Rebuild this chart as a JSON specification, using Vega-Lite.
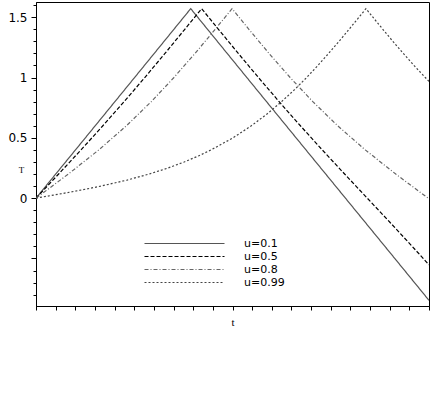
{
  "$schema": "https://vega.github.io/schema/vega-lite/v6.json",
  "width": 393,
  "height": 304,
  "autosize": "none",
  "padding": {"left": 36, "top": 2, "right": 7, "bottom": 103},
  "background": "white",
  "config": {
    "view": {"stroke": "#000", "strokeWidth": 1},
    "axis": {
      "domainColor": "#000",
      "tickColor": "#000",
      "labelColor": "#000",
      "labelFont": "DejaVu Sans",
      "labelFontSize": 12,
      "grid": false,
      "titleColor": "#000",
      "titleFont": "Liberation Serif",
      "titleFontWeight": "normal"
    }
  },
  "data": {
    "values": [
      {"s": "u=0.1", "t": 0, "T": 0},
      {"s": "u=0.1", "t": 0.5023, "T": 0.5},
      {"s": "u=0.1", "t": 1.0036, "T": 1.0},
      {"s": "u=0.1", "t": 1.5747, "T": 1.5708},
      {"s": "u=0.1", "t": 2.1458, "T": 1.0},
      {"s": "u=0.1", "t": 2.6472, "T": 0.5},
      {"s": "u=0.1", "t": 3.1495, "T": 0},
      {"s": "u=0.1", "t": 3.6518, "T": -0.5},
      {"s": "u=0.1", "t": 4, "T": -0.8472},

      {"s": "u=0.5", "t": 0, "T": 0},
      {"s": "u=0.5", "t": 0.2304, "T": 0.2},
      {"s": "u=0.5", "t": 0.458, "T": 0.4},
      {"s": "u=0.5", "t": 0.6805, "T": 0.6},
      {"s": "u=0.5", "t": 0.897, "T": 0.8},
      {"s": "u=0.5", "t": 1.1074, "T": 1.0},
      {"s": "u=0.5", "t": 1.3129, "T": 1.2},
      {"s": "u=0.5", "t": 1.5147, "T": 1.4},
      {"s": "u=0.5", "t": 1.6858, "T": 1.5708},
      {"s": "u=0.5", "t": 1.8568, "T": 1.4},
      {"s": "u=0.5", "t": 2.0586, "T": 1.2},
      {"s": "u=0.5", "t": 2.2641, "T": 1.0},
      {"s": "u=0.5", "t": 2.4745, "T": 0.8},
      {"s": "u=0.5", "t": 2.691, "T": 0.6},
      {"s": "u=0.5", "t": 2.9135, "T": 0.4},
      {"s": "u=0.5", "t": 3.1411, "T": 0.2},
      {"s": "u=0.5", "t": 3.3715, "T": 0},
      {"s": "u=0.5", "t": 3.6019, "T": -0.2},
      {"s": "u=0.5", "t": 3.8295, "T": -0.4},
      {"s": "u=0.5", "t": 4, "T": -0.5529},

      {"s": "u=0.8", "t": 0, "T": 0},
      {"s": "u=0.8", "t": 0.3295, "T": 0.2},
      {"s": "u=0.8", "t": 0.6393, "T": 0.4},
      {"s": "u=0.8", "t": 0.9202, "T": 0.6},
      {"s": "u=0.8", "t": 1.1733, "T": 0.8},
      {"s": "u=0.8", "t": 1.4041, "T": 1.0},
      {"s": "u=0.8", "t": 1.619, "T": 1.2},
      {"s": "u=0.8", "t": 1.824, "T": 1.4},
      {"s": "u=0.8", "t": 1.9953, "T": 1.5708},
      {"s": "u=0.8", "t": 2.1666, "T": 1.4},
      {"s": "u=0.8", "t": 2.3716, "T": 1.2},
      {"s": "u=0.8", "t": 2.5865, "T": 1.0},
      {"s": "u=0.8", "t": 2.8173, "T": 0.8},
      {"s": "u=0.8", "t": 3.0704, "T": 0.6},
      {"s": "u=0.8", "t": 3.3513, "T": 0.4},
      {"s": "u=0.8", "t": 3.6611, "T": 0.2},
      {"s": "u=0.8", "t": 3.9906, "T": 0},
      {"s": "u=0.8", "t": 4, "T": -0.0056},

      {"s": "u=0.99", "t": 0, "T": 0},
      {"s": "u=0.99", "t": 0.1763, "T": 0.025},
      {"s": "u=0.99", "t": 0.3475, "T": 0.05},
      {"s": "u=0.99", "t": 0.5097, "T": 0.075},
      {"s": "u=0.99", "t": 0.6609, "T": 0.1},
      {"s": "u=0.99", "t": 0.9279, "T": 0.15},
      {"s": "u=0.99", "t": 1.1526, "T": 0.2},
      {"s": "u=0.99", "t": 1.3437, "T": 0.25},
      {"s": "u=0.99", "t": 1.5086, "T": 0.3},
      {"s": "u=0.99", "t": 1.6532, "T": 0.35},
      {"s": "u=0.99", "t": 1.7819, "T": 0.4},
      {"s": "u=0.99", "t": 2.005, "T": 0.5},
      {"s": "u=0.99", "t": 2.1919, "T": 0.6},
      {"s": "u=0.99", "t": 2.3546, "T": 0.7},
      {"s": "u=0.99", "t": 2.4998, "T": 0.8},
      {"s": "u=0.99", "t": 2.632, "T": 0.9},
      {"s": "u=0.99", "t": 2.7545, "T": 1.0},
      {"s": "u=0.99", "t": 2.8696, "T": 1.1},
      {"s": "u=0.99", "t": 2.9789, "T": 1.2},
      {"s": "u=0.99", "t": 3.0843, "T": 1.3},
      {"s": "u=0.99", "t": 3.1867, "T": 1.4},
      {"s": "u=0.99", "t": 3.2876, "T": 1.5},
      {"s": "u=0.99", "t": 3.3583, "T": 1.5708},
      {"s": "u=0.99", "t": 3.429, "T": 1.5},
      {"s": "u=0.99", "t": 3.5299, "T": 1.4},
      {"s": "u=0.99", "t": 3.6323, "T": 1.3},
      {"s": "u=0.99", "t": 3.7377, "T": 1.2},
      {"s": "u=0.99", "t": 3.847, "T": 1.1},
      {"s": "u=0.99", "t": 3.9621, "T": 1.0},
      {"s": "u=0.99", "t": 4, "T": 0.968}
    ]
  },
  "mark": {"type": "line", "strokeWidth": 1.2, "clip": true},
  "encoding": {
    "x": {
      "field": "t",
      "type": "quantitative",
      "scale": {"domain": [0, 4], "nice": false, "zero": false},
      "axis": {
        "values": [0, 0.2, 0.4, 0.6, 0.8, 1, 1.2, 1.4, 1.6, 1.8, 2, 2.2, 2.4, 2.6, 2.8, 3, 3.2, 3.4, 3.6, 3.8, 4],
        "labels": false,
        "tickSize": 4,
        "title": "t",
        "titleFontSize": 11,
        "titleY": 16,
        "titleBaseline": "middle"
      }
    },
    "y": {
      "field": "T",
      "type": "quantitative",
      "scale": {"domain": [-0.894, 1.626], "nice": false, "zero": false},
      "axis": {
        "values": [-0.8, -0.7, -0.6, -0.5, -0.4, -0.3, -0.2, -0.1, 0, 0.1, 0.2, 0.3, 0.4, 0.5, 0.6, 0.7, 0.8, 0.9, 1, 1.1, 1.2, 1.3, 1.4, 1.5, 1.6],
        "format": "~g",
        "labelExpr": "datum.value >= 0 && abs(datum.value * 2 - round(datum.value * 2)) < 0.001 ? datum.label : ''",
        "tickSize": {"condition": {"test": "abs(datum.value * 2 - round(datum.value * 2)) < 0.001", "value": 5}, "value": 3},
        "labelPadding": 4,
        "title": "T",
        "titleAngle": 0,
        "titleFontSize": 9,
        "titleX": -15,
        "titleY": 167,
        "titleAlign": "center",
        "titleBaseline": "middle"
      }
    },
    "color": {
      "field": "s",
      "type": "nominal",
      "scale": {"domain": ["u=0.1", "u=0.5", "u=0.8", "u=0.99"], "range": ["#555555", "#000000", "#666666", "#444444"]},
      "legend": {
        "title": null,
        "orient": "none",
        "legendX": 143,
        "legendY": 236,
        "padding": 0,
        "symbolType": "M-10,0H10",
        "symbolSize": 64,
        "symbolStrokeWidth": 1.2,
        "labelOffset": 54,
        "labelFont": "DejaVu Sans",
        "labelFontSize": 11,
        "labelColor": "#000",
        "rowPadding": 1
      }
    },
    "strokeDash": {
      "field": "s",
      "type": "nominal",
      "scale": {"domain": ["u=0.1", "u=0.5", "u=0.8", "u=0.99"], "range": [[1, 0], [4, 2], [4, 2, 1, 2], [2, 2]]},
      "legend": {
        "title": null,
        "orient": "none",
        "legendX": 143,
        "legendY": 236,
        "padding": 0,
        "symbolType": "M-10,0H10",
        "symbolSize": 64,
        "symbolStrokeWidth": 1.2,
        "labelOffset": 54,
        "labelFont": "DejaVu Sans",
        "labelFontSize": 11,
        "labelColor": "#000",
        "rowPadding": 1
      }
    }
  }
}
